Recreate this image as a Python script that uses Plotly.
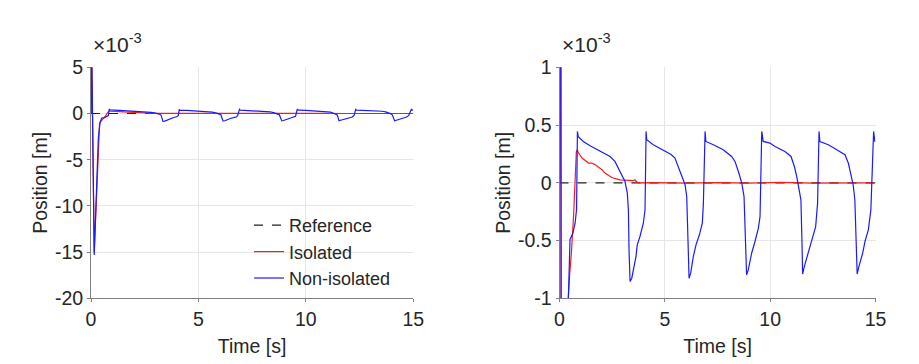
import plotly.graph_objects as go

# ---- data (values in units of 1e-3 m) ----
ref_t = [0, 15]
ref_y = [0, 0]

iso_t = [0, 0.03, 0.15, 0.26, 0.34, 0.40, 0.48, 0.56, 0.67, 0.75, 0.80, 0.84, 0.90,
         1.07, 1.38, 1.53, 1.70, 1.84, 2.02, 2.16, 2.33, 2.48, 2.87, 3.35, 3.50,
         3.58, 3.62, 3.74, 4.5, 6.0, 7.5, 9.0, 10.5, 12.0, 13.5, 15.0]
iso_y = [0, 7.0, -15.0, -8.3, -3.0, -1.05, -0.8, -0.62, -0.28, 0.01, 0.27, 0.285, 0.26,
         0.214, 0.171, 0.17, 0.156, 0.136, 0.113, 0.084, 0.065, 0.046, 0.026, 0.017, 0.018,
         0.026, 0.015, 0.0, 0.002, -0.003, 0.002, -0.002, 0.003, -0.002, 0.001, 0.0]

non_t = [0, 0.03, 0.15, 0.26, 0.34, 0.42, 0.50, 0.63, 0.74, 0.81, 0.85, 0.89,
         1.13, 1.45, 1.76, 2.08, 2.40, 2.63, 2.79, 2.95, 3.11, 3.22, 3.27, 3.30, 3.35,
         3.43, 3.50, 3.63, 3.69, 3.82, 3.98, 4.06, 4.11, 4.14, 4.45, 4.93, 5.09, 5.30,
         5.48, 5.64, 5.80, 5.96, 6.04, 6.08, 6.15, 6.23, 6.35, 6.48, 6.64, 6.78, 6.83,
         6.91, 6.95, 7.30, 7.77, 8.17, 8.33, 8.49, 8.65, 8.76, 8.82, 8.88, 8.96, 9.12,
         9.28, 9.44, 9.52, 9.60, 9.67, 9.99, 10.23, 10.70, 10.99, 11.15, 11.26, 11.38,
         11.46, 11.51, 11.54, 11.62, 11.81, 11.97, 12.16, 12.25, 12.32, 12.36, 12.76,
         13.16, 13.55, 13.71, 13.83, 13.94, 14.02, 14.07, 14.13, 14.21, 14.39, 14.50,
         14.66, 14.78, 14.91, 14.97, 15.0]
non_y = [0, 8.0, -15.3, -8.0, -2.7, -1.0, -0.49, -0.44, -0.35, -0.23, 0.445, 0.40,
         0.358, 0.32, 0.29, 0.263, 0.228, 0.185, 0.127, 0.069, 0.011, -0.09, -0.234, -0.58, -0.855,
         -0.826, -0.754, -0.64, -0.537, -0.465, -0.35, -0.234, 0.445, 0.373, 0.33, 0.286, 0.271, 0.245,
         0.214, 0.141, 0.069, -0.017, -0.119, -0.38, -0.826, -0.78, -0.64, -0.537, -0.45, -0.35, -0.176,
         0.445, 0.358, 0.33, 0.286, 0.228, 0.185, 0.098, 0.0, -0.119, -0.465, -0.797, -0.754, -0.61,
         -0.508, -0.393, -0.292, 0.445, 0.358, 0.344, 0.315, 0.271, 0.228, 0.141, 0.055, -0.06,
         -0.147, -0.52, -0.79, -0.725, -0.61, -0.494, -0.379, -0.176, 0.445, 0.358, 0.33,
         0.286, 0.243, 0.171, 0.084, -0.017, -0.147, -0.52, -0.79, -0.725, -0.61, -0.508,
         -0.407, -0.234, 0.445, 0.358, 0.358]

x_ticks = [0, 5, 10, 15]
x_ticktext = ["0", "5", "10", "15"]
y1_ticks = [-20, -15, -10, -5, 0, 5]
y1_ticktext = ["-20", "-15", "-10", "-5", "0", "5"]
y2_ticks = [-1, -0.5, 0, 0.5, 1]
y2_ticktext = ["-1", "-0.5", "0", "0.5", "1"]

# page has an 8px body margin: lay out on a (919-8)x(364-8) canvas
OFF = 8
W, H = 919 - OFF, 364 - OFF
FONT = dict(family="Liberation Sans, Arial, sans-serif", size=19.5, color="#262626")


def px(v):
    return (v - OFF) / W


def py(v):
    return (H - (v - OFF)) / H


fig = go.Figure()
for xa, ya, show in [("x", "y", True), ("x2", "y2", False)]:
    fig.add_trace(go.Scatter(x=ref_t, y=ref_y, mode="lines", name="Reference",
                             line=dict(color="#222222", width=1.2, dash="dash"),
                             xaxis=xa, yaxis=ya, showlegend=show))
    fig.add_trace(go.Scatter(x=iso_t, y=iso_y, mode="lines", name="Isolated",
                             line=dict(color="#ff1a1a", width=1.2),
                             xaxis=xa, yaxis=ya, showlegend=show))
    fig.add_trace(go.Scatter(x=non_t, y=non_y, mode="lines", name="Non-isolated",
                             line=dict(color="#1a1aff", width=1.2),
                             xaxis=xa, yaxis=ya, showlegend=show))

ax_common = dict(showline=True, linecolor="#808080", linewidth=1, mirror=False,
                 showgrid=True, gridcolor="#e6e6e6", gridwidth=1, zeroline=False,
                 ticks="outside", ticklen=3, tickcolor="#808080", automargin=False,
                 tickfont=FONT, title_font=FONT)

y_dom = [py(298.3), py(67.3)]

fig.update_layout(
    width=W, height=H,
    margin=dict(l=0, r=0, t=0, b=0),
    paper_bgcolor="white", plot_bgcolor="white",
    font=FONT,
    xaxis=dict(domain=[px(91), px(413.3)], range=[0, 15], anchor="y",
               tickvals=x_ticks, ticktext=x_ticktext,
               title=dict(text="Time [s]", standoff=10), **ax_common),
    yaxis=dict(domain=y_dom, range=[-20, 5], anchor="x",
               tickvals=y1_ticks, ticktext=y1_ticktext,
               title=dict(text="Position [m]", standoff=2), **ax_common),
    xaxis2=dict(domain=[px(559.5), px(875.5)], range=[0, 15], anchor="y2",
                tickvals=x_ticks, ticktext=x_ticktext,
                title=dict(text="Time [s]", standoff=10), **ax_common),
    yaxis2=dict(domain=y_dom, range=[-1, 1], anchor="x2",
                tickvals=y2_ticks, ticktext=y2_ticktext,
                title=dict(text="Position [m]", standoff=2), **ax_common),
    legend=dict(x=px(249), y=py(207), xanchor="left", yanchor="top",
                bgcolor="rgba(255,255,255,0)", borderwidth=0,
                font=dict(family=FONT["family"], size=18, color="#262626"),
                tracegroupgap=0),
    showlegend=True,
)

for xp in [91, 559.5]:
    fig.add_annotation(x=px(xp), y=py(43), xref="paper", yref="paper",
                       text="×10<sup>-3</sup>", showarrow=False,
                       xanchor="left", yanchor="middle",
                       font=dict(family=FONT["family"], size=21, color="#262626"))

fig.write_html("out.html")
